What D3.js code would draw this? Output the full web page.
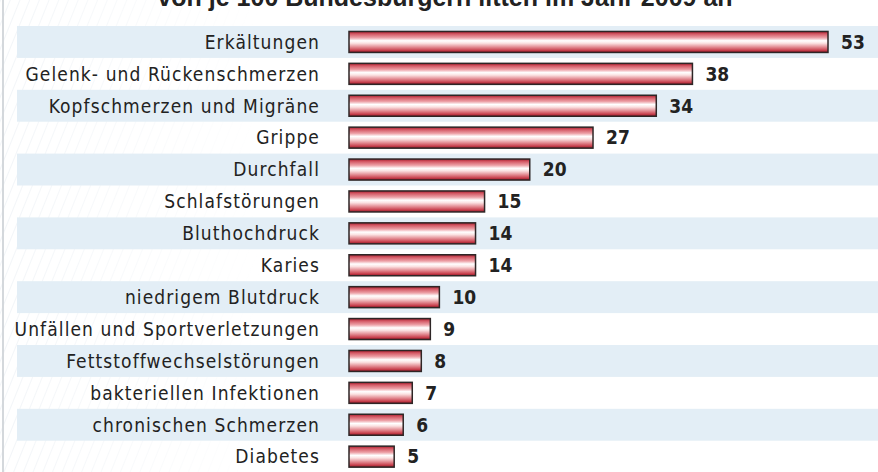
<!DOCTYPE html>
<html>
<head>
<meta charset="utf-8">
<script src="https://cdn.jsdelivr.net/npm/d3@7"></script>
<style>
  body { margin: 0; background: #fff; }
  svg { display: block; }
</style>
</head>
<body>
<div id="chart"></div>
<script>
// Data
const categories = ["Erkältungen", "Gelenk- und Rückenschmerzen", "Kopfschmerzen und Migräne",
    "Grippe", "Durchfall", "Schlafstörungen", "Bluthochdruck", "Karies", "niedrigem Blutdruck",
    "Unfällen und Sportverletzungen", "Fettstoffwechselstörungen", "bakteriellen Infektionen",
    "chronischen Schmerzen", "Diabetes"];
const values = [53, 38, 34, 27, 20, 15, 14, 14, 10, 9, 8, 7, 6, 5];
const title = "von je 100 Bundesbürgern litten im Jahr 2009 an";

const width = 878, height = 472;
const rowsTop = 26, rowH = 31.9;

const svg = d3.select("#chart").append("svg")
    .attr("width", width)
    .attr("height", height);

const defs = svg.append("defs");

// hatching for the background
const pat = defs.append("pattern")
    .attr("id", "hatch")
    .attr("width", 9).attr("height", 9)
    .attr("patternUnits", "userSpaceOnUse")
    .attr("patternTransform", "rotate(22)");
pat.append("line")
    .attr("x1", 0).attr("y1", 0).attr("x2", 0).attr("y2", 9)
    .style("stroke", "#e6ecf1").style("stroke-width", 1);

const fade = defs.append("linearGradient")
    .attr("id", "fade").attr("x1", 0).attr("x2", 1);
fade.append("stop").attr("offset", "0%").attr("stop-color", "#fff").attr("stop-opacity", 0);
fade.append("stop").attr("offset", "100%").attr("stop-color", "#fff").attr("stop-opacity", 1);

// bar gradient
const grad = defs.append("linearGradient")
    .attr("id", "bar").attr("x1", 0).attr("x2", 0).attr("y1", 0).attr("y2", 1);
[["0%", "#a81c2c"], ["12%", "#d45a66"], ["30%", "#eda2a8"], ["44%", "#ffffff"],
 ["56%", "#fbe2e2"], ["74%", "#e38d94"], ["90%", "#c8404d"], ["100%", "#8c1624"]]
    .forEach(s => grad.append("stop").attr("offset", s[0]).attr("stop-color", s[1]));

// Background
svg.append("rect").attr("width", width).attr("height", height).style("fill", "#fff");
svg.append("rect").attr("width", 260).attr("height", height).style("fill", "url(#hatch)");
svg.append("rect").attr("width", 260).attr("height", height).style("fill", "url(#fade)");
svg.append("rect").attr("x", 2).attr("y", 0).attr("width", 2).attr("height", height)
    .style("fill", "#d4d8dc");

// Scales
const x = d3.scaleLinear().domain([0, 53]).range([349, 828]);
const y = d3.scaleBand().domain(categories)
    .range([rowsTop, rowsTop + rowH * categories.length]).paddingInner(0).paddingOuter(0);

// Stripes
svg.append("g").selectAll("rect")
    .data(categories.filter((d, i) => i % 2 === 0))
    .enter().append("rect")
    .attr("x", 17)
    .attr("y", d => y(d))
    .attr("width", width - 17)
    .attr("height", y.bandwidth())
    .style("fill", "#e3eef6");

// Title (cut off at the top, as in the original)
svg.append("text")
    .attr("x", 445).attr("y", 6)
    .attr("text-anchor", "middle")
    .style("font-family", "'Liberation Sans', Arial, sans-serif")
    .style("font-weight", "bold")
    .style("font-size", "25px")
    .style("fill", "#222")
    .style("stroke", "#fff").style("stroke-width", 3).style("paint-order", "stroke")
    .text(title);

// Bars
const barH = 21;
svg.append("g").selectAll("rect")
    .data(values)
    .enter().append("rect")
    .attr("x", x(0))
    .attr("y", (d, i) => y(categories[i]) + y.bandwidth() / 2 - barH / 2)
    .attr("width", d => x(d) - x(0))
    .attr("height", barH)
    .style("fill", "url(#bar)")
    .style("stroke", "#2e2626")
    .style("stroke-width", 1.5);

// Category labels
svg.append("g").selectAll("text")
    .data(categories)
    .enter().append("text")
    .attr("x", 320)
    .attr("y", d => y(d) + y.bandwidth() / 2)
    .attr("dy", "0.36em")
    .attr("text-anchor", "end")
    .style("font-family", "'DejaVu Sans Condensed', sans-serif")
    .style("font-size", "19px")
    .style("letter-spacing", "1.1px")
    .style("fill", "#222")
    .text(d => d);

// Value labels
svg.append("g").selectAll("text")
    .data(values)
    .enter().append("text")
    .attr("x", d => x(d) + 13)
    .attr("y", (d, i) => y(categories[i]) + y.bandwidth() / 2)
    .attr("dy", "0.36em")
    .style("font-family", "'DejaVu Sans Condensed', sans-serif")
    .style("font-weight", "bold")
    .style("font-size", "19px")
    .style("fill", "#222")
    .text(d => d);
</script>
</body>
</html>
